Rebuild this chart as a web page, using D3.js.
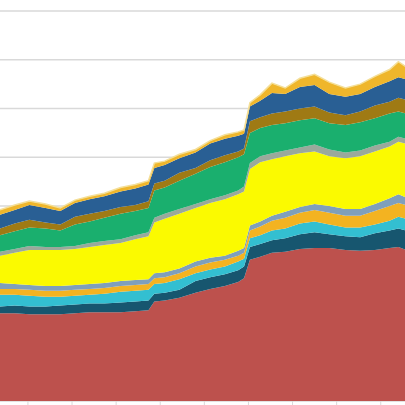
<!DOCTYPE html>
<html>
<head>
<meta charset="utf-8">
<script src="https://cdn.jsdelivr.net/npm/d3@7"></script>
<style>
  html, body { margin: 0; padding: 0; background: #fff; overflow: hidden; }
</style>
</head>
<body>
<svg id="chart" width="405" height="405"></svg>
<script>
// sample days along the time axis
const days = [-19, -9, 1, 12, 22, 32, 42, 52, 63, 73, 82, 86, 93, 103, 114, 124, 134, 143, 147, 151, 158, 166, 175, 185, 195, 205, 216, 226, 236, 246, 252, 257];

// series values, bottom of the stack first
const red      = [90, 90, 89, 89, 89, 90, 91, 91, 91, 92, 93, 102, 103, 106, 111, 115, 118, 122, 126, 145, 148, 152, 153, 156, 157, 157, 155, 154, 155, 157, 158, 155];
const teal     = [7, 8, 8, 8, 9, 9, 9, 9, 10, 10, 10, 8, 8, 8, 12, 12, 12, 12, 12, 13, 13, 13, 14, 15, 16, 14, 14, 14, 17, 18, 19, 20];
const cyan     = [12, 11, 11, 10, 9, 9, 9, 10, 11, 11, 11, 10, 10, 11, 8, 8, 8, 9, 8, 9, 9, 10, 10, 11, 11, 10, 9, 10, 9, 10, 12, 12];
const orange   = [6, 6, 6, 6, 6, 6, 6, 6, 6, 6, 6, 6, 6, 6, 7, 7, 7, 6, 6, 8, 9, 10, 11, 11, 12, 12, 12, 12, 14, 15, 14, 14];
const grayBlue = [6, 5, 5, 5, 5, 5, 5, 5, 5, 5, 5, 5, 5, 5, 5, 5, 4, 5, 5, 5, 5, 5, 6, 6, 6, 7, 7, 7, 7, 8, 9, 8];
const yellow   = [28, 32, 36, 37, 37, 37, 38, 39, 39, 42, 44, 52, 55, 56, 55, 56, 58, 58, 58, 58, 61, 58, 57, 55, 54, 51, 52, 54, 54, 53, 54, 55];
const gray     = [4, 4, 4, 3, 3, 3, 4, 4, 4, 4, 4, 5, 5, 5, 4, 4, 4, 4, 5, 6, 6, 6, 6, 6, 7, 7, 6, 6, 6, 5, 5, 5];
const green    = [17, 18, 19, 19, 17, 22, 22, 24, 26, 25, 25, 28, 27, 29, 31, 33, 34, 34, 33, 31, 29, 29, 28, 28, 27, 27, 28, 29, 28, 29, 26, 26];
const olive    = [7, 8, 8, 6, 6, 8, 8, 7, 7, 6, 7, 7, 7, 8, 6, 7, 7, 6, 6, 12, 11, 12, 12, 12, 12, 11, 10, 11, 13, 12, 14, 14];
const blue     = [14, 14, 15, 15, 14, 14, 15, 15, 16, 17, 17, 16, 16, 15, 16, 17, 17, 16, 15, 15, 17, 21, 18, 22, 22, 19, 19, 18, 19, 21, 21, 21];
const gold     = [5, 5, 4, 4, 3, 3, 3, 3, 4, 4, 4, 5, 4, 4, 3, 3, 4, 4, 4, 4, 6, 10, 6, 9, 11, 12, 9, 10, 11, 12, 16, 13];

const seriesKeys = ['red', 'teal', 'cyan', 'orange', 'grayBlue', 'yellow', 'gray', 'green', 'olive', 'blue', 'gold'];
const seriesValues = { red, teal, cyan, orange, grayBlue, yellow, gray, green, olive, blue, gold };
const colors = ['#bd514d', '#17566f', '#33bfd1', '#f3b321', '#7f9fbb', '#fbfa00', '#9aa99c', '#1aaf6e', '#9f7a14', '#295f94', '#efb62b'];

const xTicks = [0, 30, 60, 90, 120, 150, 180, 210, 240];
const yTicks = [0, 50, 100, 150, 200, 250, 300, 350, 400];

const width = 405;
const height = 405;

const svg = d3.select('#chart');

const x = d3.scaleLinear().domain([-19, 256.5]).range([0, width]);
const y = d3.scaleLinear().domain([0, 400]).range([401, 11]);

// rows for the stack
const rows = days.map((day, i) => {
    const row = { day: day };
    seriesKeys.forEach(k => { row[k] = seriesValues[k][i]; });
    return row;
});

const stacked = d3.stack().keys(seriesKeys)(rows);

// gridlines
svg.append('g')
    .selectAll('line')
    .data(yTicks)
    .join('line')
    .attr('x1', 0)
    .attr('x2', width)
    .attr('y1', d => y(d))
    .attr('y2', d => y(d))
    .attr('stroke', '#d9d9d9')
    .attr('stroke-width', 1.5);

const area = d3.area()
    .x(d => x(d.data.day))
    .y0(d => y(d[0]))
    .y1(d => y(d[1]));

svg.append('g')
    .selectAll('path')
    .data(stacked)
    .join('path')
    .attr('d', area)
    .attr('fill', (d, i) => colors[i]);

// pale fringe on the top edge
const topLine = d3.line()
    .x(d => x(d.data.day))
    .y(d => y(d[1]));

svg.append('path')
    .datum(stacked[stacked.length - 1])
    .attr('d', topLine)
    .attr('fill', 'none')
    .attr('stroke', '#f4df98')
    .attr('stroke-width', 1.5);

// axis tick marks below the baseline
svg.append('g')
    .selectAll('line')
    .data(xTicks)
    .join('line')
    .attr('x1', d => x(d))
    .attr('x2', d => x(d))
    .attr('y1', y(0))
    .attr('y2', y(0) + 5)
    .attr('stroke', '#d9d9d9')
    .attr('stroke-width', 1);
</script>
</body>
</html>
